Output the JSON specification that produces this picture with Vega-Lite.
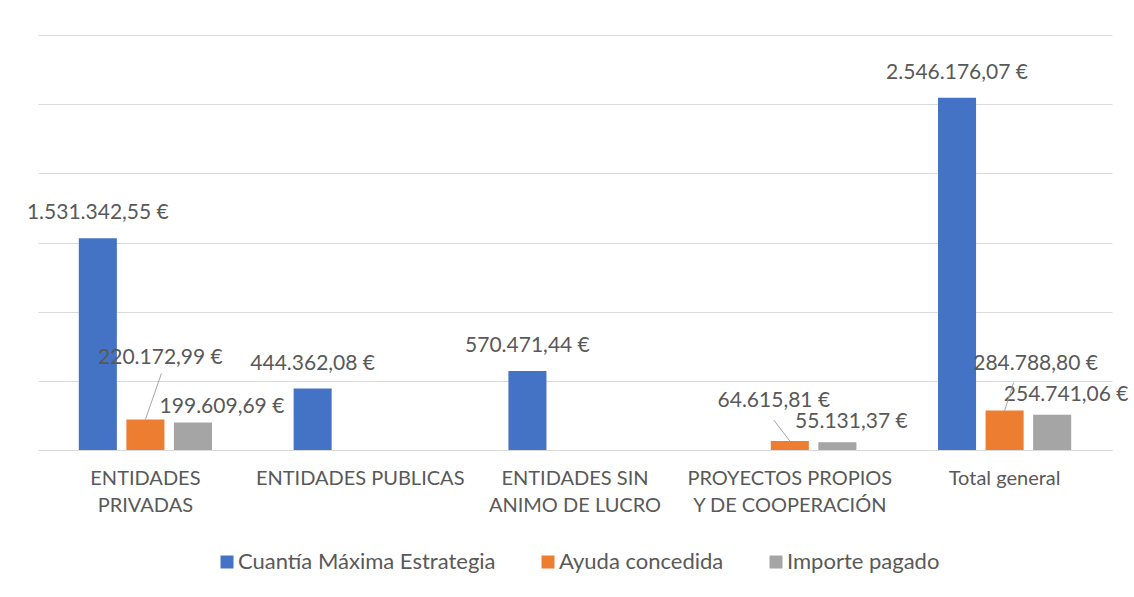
{
  "$schema": "https://vega.github.io/schema/vega-lite/v6.json",
  "autosize": {"type": "none"},
  "width": 1074,
  "height": 415,
  "padding": {"left": 38, "top": 35, "right": 22, "bottom": 147},
  "background": "white",
  "config": {
    "locale": {"number": {"decimal": ",", "thousands": ".", "grouping": [3], "currency": ["", " €"]}},
    "font": "Lato",
    "view": {"stroke": null},
    "legend": {"symbolStrokeWidth": 0}
  },
  "data": {
    "values": [
      {"categoria": "ENTIDADES PRIVADAS", "serie": "Cuantía Máxima Estrategia", "importe": 1531342.55},
      {"categoria": "ENTIDADES PRIVADAS", "serie": "Ayuda concedida", "importe": 220172.99},
      {"categoria": "ENTIDADES PRIVADAS", "serie": "Importe pagado", "importe": 199609.69},
      {"categoria": "ENTIDADES PUBLICAS", "serie": "Cuantía Máxima Estrategia", "importe": 444362.08},
      {"categoria": "ENTIDADES SIN ANIMO DE LUCRO", "serie": "Cuantía Máxima Estrategia", "importe": 570471.44},
      {"categoria": "PROYECTOS PROPIOS Y DE COOPERACIÓN", "serie": "Ayuda concedida", "importe": 64615.81},
      {"categoria": "PROYECTOS PROPIOS Y DE COOPERACIÓN", "serie": "Importe pagado", "importe": 55131.37},
      {"categoria": "Total general", "serie": "Cuantía Máxima Estrategia", "importe": 2546176.07},
      {"categoria": "Total general", "serie": "Ayuda concedida", "importe": 284788.80},
      {"categoria": "Total general", "serie": "Importe pagado", "importe": 254741.06}
    ]
  },
  "encoding": {
    "x": {
      "field": "categoria",
      "type": "nominal",
      "sort": ["ENTIDADES PRIVADAS", "ENTIDADES PUBLICAS", "ENTIDADES SIN ANIMO DE LUCRO", "PROYECTOS PROPIOS Y DE COOPERACIÓN", "Total general"],
      "scale": {"paddingInner": 0.38, "paddingOuter": 0.19},
      "axis": {
        "title": null,
        "labelAngle": 0,
        "ticks": false,
        "domainColor": "#D9D9D9",
        "domainWidth": 1,
        "labelFont": "Lato",
        "labelFontSize": 20,
        "labelColor": "#595959",
        "labelPadding": 18,
        "labelLineHeight": 27,
        "labelBaseline": "top",
        "labelLimit": 0,
        "labelExpr": "datum.label == 'ENTIDADES PRIVADAS' ? ['ENTIDADES', 'PRIVADAS'] : datum.label == 'ENTIDADES SIN ANIMO DE LUCRO' ? ['ENTIDADES SIN', 'ANIMO DE LUCRO'] : datum.label == 'PROYECTOS PROPIOS Y DE COOPERACIÓN' ? ['PROYECTOS PROPIOS', 'Y DE COOPERACIÓN'] : datum.label"
      }
    },
    "xOffset": {
      "field": "serie",
      "type": "nominal",
      "scale": {"domain": ["Cuantía Máxima Estrategia", "Ayuda concedida", "Importe pagado"], "paddingInner": 0.2, "paddingOuter": 0}
    },
    "y": {
      "field": "importe",
      "type": "quantitative",
      "scale": {"domain": [0, 3000000], "nice": false},
      "axis": {
        "title": null,
        "labels": false,
        "ticks": false,
        "domain": false,
        "grid": true,
        "gridColor": "#D9D9D9",
        "gridWidth": 1,
        "values": [0, 500000, 1000000, 1500000, 2000000, 2500000, 3000000]
      }
    }
  },
  "layer": [
    {
      "mark": {"type": "bar"},
      "encoding": {
        "color": {
          "field": "serie",
          "type": "nominal",
          "scale": {"domain": ["Cuantía Máxima Estrategia", "Ayuda concedida", "Importe pagado"], "range": ["#4472C4", "#ED7D31", "#A5A5A5"]},
          "legend": {
            "title": null,
            "orient": "none",
            "direction": "horizontal",
            "legendX": 178,
            "legendY": 516,
            "symbolType": "square",
            "symbolSize": 169,
            "columnPadding": 41,
            "labelOffset": 0,
            "labelFont": "Lato",
            "labelFontSize": 22,
            "labelColor": "#595959",
            "labelLimit": 400
          }
        }
      }
    },
    {
      "transform": [{"filter": "datum.serie == 'Cuantía Máxima Estrategia'"}],
      "mark": {"type": "text", "baseline": "middle", "align": "center", "dy": -25, "fontSize": 21, "color": "#595959", "font": "Lato"},
      "encoding": {"text": {"field": "importe", "type": "quantitative", "format": "$,.2f"}}
    },
    {
      "transform": [{"filter": "datum.categoria == 'ENTIDADES PRIVADAS' && datum.serie == 'Ayuda concedida'"}],
      "mark": {"type": "text", "baseline": "middle", "align": "center", "dx": 15, "dy": -62, "fontSize": 21, "color": "#595959", "font": "Lato"},
      "encoding": {"text": {"field": "importe", "type": "quantitative", "format": "$,.2f"}}
    },
    {
      "transform": [{"filter": "datum.categoria == 'ENTIDADES PRIVADAS' && datum.serie == 'Importe pagado'"}],
      "mark": {"type": "text", "baseline": "middle", "align": "center", "dx": 29, "dy": -15, "fontSize": 21, "color": "#595959", "font": "Lato"},
      "encoding": {"text": {"field": "importe", "type": "quantitative", "format": "$,.2f"}}
    },
    {
      "transform": [{"filter": "datum.categoria == 'PROYECTOS PROPIOS Y DE COOPERACIÓN' && datum.serie == 'Ayuda concedida'"}],
      "mark": {"type": "text", "baseline": "middle", "align": "center", "dx": -16, "dy": -40, "fontSize": 21, "color": "#595959", "font": "Lato"},
      "encoding": {"text": {"field": "importe", "type": "quantitative", "format": "$,.2f"}}
    },
    {
      "transform": [{"filter": "datum.categoria == 'PROYECTOS PROPIOS Y DE COOPERACIÓN' && datum.serie == 'Importe pagado'"}],
      "mark": {"type": "text", "baseline": "middle", "align": "center", "dx": 14, "dy": -20, "fontSize": 21, "color": "#595959", "font": "Lato"},
      "encoding": {"text": {"field": "importe", "type": "quantitative", "format": "$,.2f"}}
    },
    {
      "transform": [{"filter": "datum.categoria == 'Total general' && datum.serie == 'Ayuda concedida'"}],
      "mark": {"type": "text", "baseline": "middle", "align": "center", "dx": 31, "dy": -47, "fontSize": 21, "color": "#595959", "font": "Lato"},
      "encoding": {"text": {"field": "importe", "type": "quantitative", "format": "$,.2f"}}
    },
    {
      "transform": [{"filter": "datum.categoria == 'Total general' && datum.serie == 'Importe pagado'"}],
      "mark": {"type": "text", "baseline": "middle", "align": "center", "dx": 14, "dy": -20, "fontSize": 21, "color": "#595959", "font": "Lato"},
      "encoding": {"text": {"field": "importe", "type": "quantitative", "format": "$,.2f"}}
    },
    {
      "transform": [{"filter": "datum.categoria == 'ENTIDADES PRIVADAS' && datum.serie == 'Ayuda concedida'"}],
      "mark": {"type": "point", "shape": "M0,0L16,-46", "size": 4, "filled": false, "stroke": "#A6A6A6", "strokeWidth": 1, "opacity": 1}
    },
    {
      "transform": [{"filter": "datum.categoria == 'PROYECTOS PROPIOS Y DE COOPERACIÓN' && datum.serie == 'Ayuda concedida'"}],
      "mark": {"type": "point", "shape": "M0,0L-16,-21", "size": 4, "filled": false, "stroke": "#A6A6A6", "strokeWidth": 1, "opacity": 1}
    },
    {
      "transform": [{"filter": "datum.categoria == 'Total general' && datum.serie == 'Ayuda concedida'"}],
      "mark": {"type": "point", "shape": "M0,0L9,-28", "size": 4, "filled": false, "stroke": "#A6A6A6", "strokeWidth": 1, "opacity": 1}
    }
  ]
}
